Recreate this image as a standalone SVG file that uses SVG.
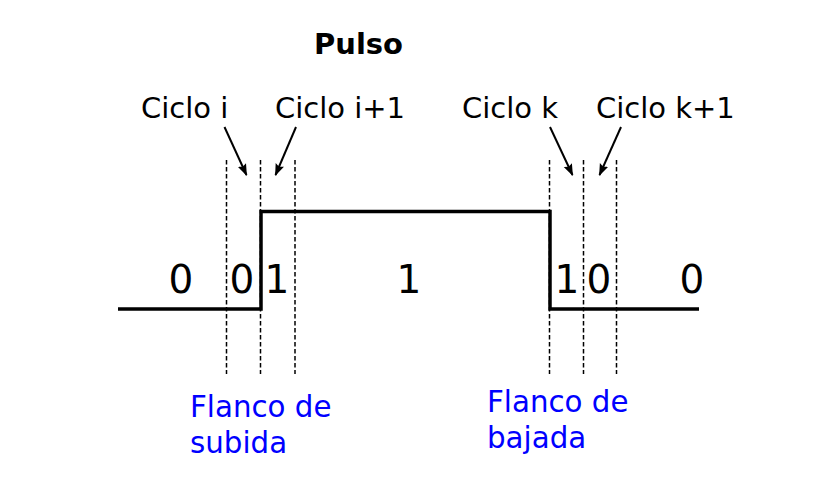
<svg xmlns="http://www.w3.org/2000/svg" width="818" height="490" viewBox="0 0 818 490">
<defs>
<style>
text{font-family:"DejaVu Sans","Liberation Sans",sans-serif;}
.lbl{font-size:29px;fill:#000;}
.num{font-size:39px;fill:#000;text-anchor:middle;}
.blue{font-size:29.3px;fill:#0000ff;}
.title{font-size:29px;font-weight:bold;fill:#000;}
.dash{stroke:#000;stroke-width:1.5;stroke-dasharray:4.5,2.5;fill:none;}
.sig{stroke:#000;stroke-width:3.5;fill:none;}
.arr{stroke:#000;stroke-width:2;fill:none;marker-end:url(#ah);}
</style>
<marker id="ah" viewBox="0 0 12 10" refX="11" refY="5" markerWidth="12" markerHeight="10" markerUnits="userSpaceOnUse" orient="auto">
<path d="M0,0.5 L12,5 L0,9.5 L2,5 z" fill="#000"/>
</marker>
</defs>
<rect width="818" height="490" fill="#fff"/>
<g id="title"><text class="title" x="314" y="54">Pulso</text></g>
<g id="signal">
<polyline class="sig" points="118,309 261,309 261,211.5 550,211.5 550,309 699,309"/>
</g>
<g id="gridlines">
<line class="dash" x1="226.5" y1="160" x2="226.5" y2="374"/>
<line class="dash" x1="260.5" y1="160" x2="260.5" y2="374"/>
<line class="dash" x1="295" y1="160" x2="295" y2="374"/>
<line class="dash" x1="549.5" y1="160" x2="549.5" y2="374"/>
<line class="dash" x1="583.5" y1="160" x2="583.5" y2="374"/>
<line class="dash" x1="616.5" y1="160" x2="616.5" y2="374"/>
</g>
<g id="bits">
<text class="num" x="181" y="293">0</text>
<text class="num" x="242" y="293">0</text>
<text class="num" x="277" y="293">1</text>
<text class="num" x="409" y="293">1</text>
<text class="num" x="567" y="293">1</text>
<text class="num" x="599" y="293">0</text>
<text class="num" x="692" y="293">0</text>
</g>
<g id="ciclo-i"><text class="lbl" x="141" y="118">Ciclo i</text></g>
<g id="ciclo-i1"><text class="lbl" x="275" y="118">Ciclo i+1</text></g>
<g id="ciclo-k"><text class="lbl" x="462" y="118">Ciclo k</text></g>
<g id="ciclo-k1"><text class="lbl" x="596" y="118">Ciclo k+1</text></g>
<g id="flanco-subida">
<text class="blue" x="190" y="417">Flanco de</text>
<text class="blue" x="190" y="453">subida</text>
</g>
<g id="flanco-bajada">
<text class="blue" x="487" y="412">Flanco de</text>
<text class="blue" x="487" y="448">bajada</text>
</g>
<g id="connectors">
<line class="arr" x1="224.5" y1="127" x2="246.5" y2="175"/>
<line class="arr" x1="296" y1="127" x2="275.5" y2="175"/>
<line class="arr" x1="550" y1="127" x2="572.5" y2="175"/>
<line class="arr" x1="621" y1="127" x2="599.5" y2="175"/>
</g>
</svg>
